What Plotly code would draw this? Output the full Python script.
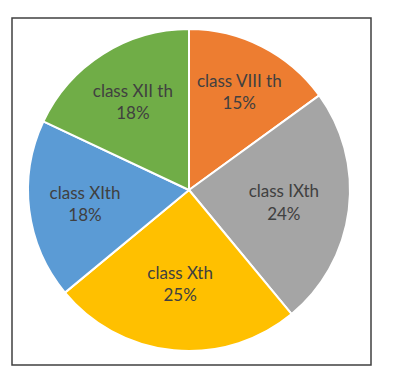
import plotly.graph_objects as go

labels = ["class VIII th", "class IXth", "class Xth", "class XIth", "class XII th"]
values = [15, 24, 25, 18, 18]
colors = ["#ED7D31", "#A5A5A5", "#FFC000", "#5B9BD5", "#70AD47"]

W, H = 398, 384
cx, cy, r = 189, 190, 161

fig = go.Figure(go.Pie(
    labels=labels,
    values=values,
    sort=False,
    direction="clockwise",
    rotation=0,
    marker=dict(colors=colors, line=dict(color="white", width=2)),
    texttemplate="%{label}<br>%{percent:.0%}",
    textposition="inside",
    insidetextorientation="horizontal",
    textfont=dict(family="Lato", size=17, color="#404040"),
    showlegend=False,
    hoverinfo="skip",
    domain=dict(x=[(cx - r) / W, (cx + r) / W],
                y=[(H - cy - r) / H, (H - cy + r) / H]),
))

fig.add_shape(type="rect", xref="paper", yref="paper",
              x0=12 / W, x1=371 / W, y0=(H - 365) / H, y1=(H - 18) / H,
              line=dict(color="#404040", width=1.5))

fig.update_layout(width=W, height=H, margin=dict(l=0, r=0, t=0, b=0),
                  paper_bgcolor="white", plot_bgcolor="white")
fig.write_html("out.html")
